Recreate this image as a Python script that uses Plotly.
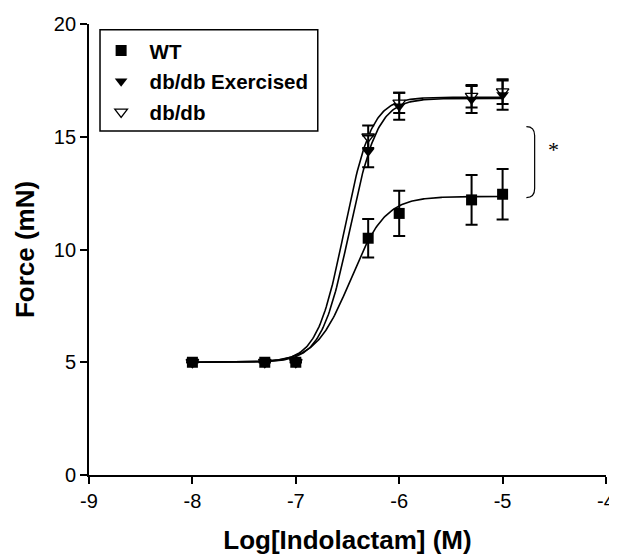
import numpy as np
import plotly.graph_objects as go

# ---- data ----
log_conc = [-8, -7.3, -7, -6.3, -6, -5.3, -5]

wt_force = [5.0, 5.0, 5.0, 10.5, 11.6, 12.2, 12.45]
wt_err = [0, 0, 0, 0.85, 1.0, 1.1, 1.12]

ex_force = [5.0, 5.0, 5.0, 14.35, 16.35, 16.65, 16.85]
ex_err = [0, 0, 0, 0.7, 0.6, 0.6, 0.65]

db_force = [5.0, 5.0, 5.0, 15.0, 16.5, 16.8, 17.0]
db_err = [0, 0, 0, 0.5, 0.45, 0.5, 0.55]

# sigmoid fit parameters: bottom, top, logEC50, hill slope
wt_fit = (5.0, 12.35, -6.47, 2.6)
ex_fit = (5.0, 16.7, -6.48, 3.2)
db_fit = (5.0, 16.75, -6.53, 3.3)

x_ticks = [-9, -8, -7, -6, -5, -4]
y_ticks = [0, 5, 10, 15, 20]


def sigmoid(x, p):
    b, t, ec, h = p
    return b + (t - b) / (1 + 10 ** ((ec - x) * h))


xfit = np.linspace(-8, -5, 300)

fig = go.Figure()

line_style = dict(color="black", width=1.6)
for p in (wt_fit, ex_fit, db_fit):
    fig.add_trace(go.Scatter(x=xfit, y=sigmoid(xfit, p), mode="lines",
                             line=line_style, showlegend=False, hoverinfo="skip"))

err_style = dict(type="data", thickness=2, width=6, color="black")

fig.add_trace(go.Scatter(
    x=log_conc, y=db_force, mode="markers", name="db/db", legendrank=3, legendgroup="c",
    marker=dict(symbol="triangle-down", size=11, color="white",
                line=dict(color="black", width=1.3)),
    error_y=dict(array=db_err, **err_style)))
fig.add_trace(go.Scatter(
    x=log_conc, y=ex_force, mode="markers", name="db/db Exercised", legendrank=2, legendgroup="b",
    marker=dict(symbol="triangle-down", size=11, color="black"),
    error_y=dict(array=ex_err, **err_style)))
fig.add_trace(go.Scatter(
    x=log_conc, y=wt_force, mode="markers", name="WT", legendrank=1, legendgroup="a",
    marker=dict(symbol="square", size=11, color="black"),
    error_y=dict(array=wt_err, **err_style)))

# legend frame
fig.add_shape(type="rect", xref="paper", yref="paper",
              x0=0.0213, x1=0.4425, y0=0.763, y1=0.987,
              line=dict(color="black", width=1.5), fillcolor="rgba(0,0,0,0)")

# significance bracket
fig.add_shape(type="path", xref="x", yref="y",
              path="M -4.77,15.45 Q -4.69,15.45 -4.69,15.05 L -4.69,12.7 Q -4.69,12.3 -4.77,12.3",
              line=dict(color="black", width=1.2))
fig.add_annotation(x=-4.51, y=14.45, xref="x", yref="y", text="*", showarrow=False,
                   font=dict(family="Liberation Serif", size=22, color="black"))

fig.update_layout(
    width=609, height=547,
    margin=dict(l=81, r=10.5, t=16.3, b=80.3),
    paper_bgcolor="white", plot_bgcolor="white",
    font=dict(family="Liberation Sans, Arial", color="black"),
    showlegend=True,
    legend=dict(x=0.007, y=0.985, xanchor="left", yanchor="top",
                borderwidth=0, bgcolor="rgba(0,0,0,0)",
                font=dict(size=20.5, family="Liberation Sans, Arial", weight="bold"),
                tracegroupgap=1, itemwidth=47),
)
fig.update_xaxes(range=[-9, -4], tickvals=x_ticks, ticktext=[str(v) for v in x_ticks],
                 showline=True, linecolor="black", linewidth=1.8, ticks="outside",
                 ticklen=7, tickwidth=1.8, tickcolor="black", showgrid=False, zeroline=False,
                 tickfont=dict(size=20), automargin=False,
                 title=dict(text="<b>Log[Indolactam] (M)</b>", font=dict(size=26), standoff=22))
fig.update_yaxes(range=[0, 20], tickvals=y_ticks,
                 showline=True, linecolor="black", linewidth=1.8, ticks="outside",
                 ticklen=7, tickwidth=1.8, tickcolor="black", showgrid=False, zeroline=False,
                 tickfont=dict(size=20), automargin=False,
                 title=dict(text="<b>Force (mN)</b>", font=dict(size=26), standoff=12))

fig.write_html("out.html")
